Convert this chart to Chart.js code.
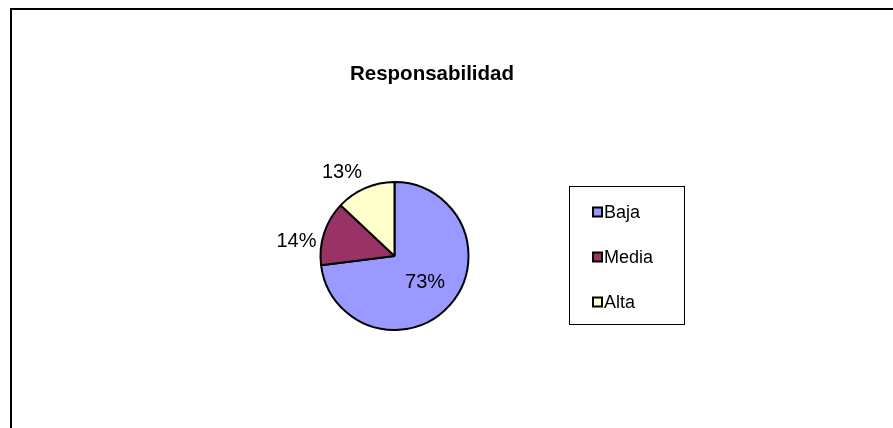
<!DOCTYPE html>
<html>
<head>
<meta charset="utf-8">
<script src="https://cdn.jsdelivr.net/npm/chart.js@4"></script>
<style>
	html, body { margin: 0; padding: 0; background: #fff; }
	#wrap { width: 893px; height: 428px; position: relative; }
</style>
</head>
<body>
<div id="wrap"><canvas id="chart" width="893" height="428"></canvas></div>
<script>
const chartTitle = 'Responsabilidad';
const categories = ['Baja', 'Media', 'Alta'];
const percentages = [73, 14, 13];
const sliceColors = ['#9999FF', '#993366', '#FFFFCC'];

const fontFamily = '"Liberation Sans", Arial, sans-serif';

// outer frame (top + left edge only, like the cropped Excel chart area)
const framePlugin = {
	id: 'frame',
	beforeDraw: chart => {
		const ctx = chart.ctx;
		ctx.save();
		ctx.fillStyle = '#fff';
		ctx.fillRect(0, 0, chart.width, chart.height);
		ctx.strokeStyle = '#000';
		ctx.lineWidth = 2;
		ctx.beginPath();
		ctx.moveTo(11, chart.height);
		ctx.lineTo(11, 9);
		ctx.lineTo(chart.width, 9);
		ctx.stroke();
		ctx.restore();
	}
};

const titlePlugin = {
	id: 'bigTitle',
	afterDraw: chart => {
		const ctx = chart.ctx;
		ctx.save();
		ctx.fillStyle = '#000';
		ctx.font = `bold 20.5px ${fontFamily}`;
		ctx.textAlign = 'center';
		ctx.textBaseline = 'middle';
		ctx.fillText(chartTitle, 432, 74);
		ctx.restore();
	}
};

// percentage labels: biggest slice inside, others outside
const labelPlugin = {
	id: 'pctLabels',
	afterDatasetsDraw: chart => {
		const ctx = chart.ctx;
		const meta = chart.getDatasetMeta(0);
		ctx.save();
		ctx.fillStyle = '#000';
		ctx.font = `20px ${fontFamily}`;
		meta.data.forEach((arc, i) => {
			const text = percentages[i] + '%';
			const mid = (arc.startAngle + arc.endAngle) / 2;
			const c = Math.cos(mid), s = Math.sin(mid);
			if (percentages[i] > 50) {
				const d = arc.outerRadius * 0.55;
				ctx.textAlign = 'center';
				ctx.textBaseline = 'middle';
				ctx.fillText(text, arc.x + c * d, arc.y + s * d);
			} else {
				const d = arc.outerRadius + 8;
				ctx.textAlign = c < -0.3 ? 'right' : (c > 0.3 ? 'left' : 'center');
				ctx.textBaseline = s < -0.5 ? 'bottom' : 'top';
				ctx.fillText(text, arc.x + c * d, arc.y + s * d + (s < -0.5 ? 2 : 1));
			}
		});
		ctx.restore();
	}
};

const legendPlugin = {
	id: 'boxLegend',
	afterDraw: chart => {
		const ctx = chart.ctx;
		ctx.save();
		ctx.strokeStyle = '#000';
		ctx.lineWidth = 1;
		ctx.strokeRect(569.5, 186.5, 115, 138);
		ctx.font = `18px ${fontFamily}`;
		ctx.textBaseline = 'middle';
		ctx.textAlign = 'left';
		chart.data.labels.forEach((label, i) => {
			const y = 212 + i * 45;
			ctx.fillStyle = sliceColors[i];
			ctx.fillRect(593, y - 4.5, 9, 9);
			ctx.lineWidth = 2;
			ctx.strokeRect(593, y - 4.5, 9, 9);
			ctx.fillStyle = '#000';
			ctx.fillText(label, 604, y + 1);
		});
		ctx.restore();
	}
};

new Chart(document.getElementById('chart'), {
	type: 'pie',
	data: {
		labels: categories,
		datasets: [{
			data: percentages,
			backgroundColor: sliceColors,
			borderColor: '#000',
			borderWidth: 2
		}]
	},
	options: {
		responsive: false,
		animation: false,
		layout: {
			padding: { left: 319.5, right: 423.5, top: 181, bottom: 97 }
		},
		plugins: {
			legend: { display: false },
			title: { display: false },
			tooltip: { enabled: false }
		}
	},
	plugins: [framePlugin, titlePlugin, labelPlugin, legendPlugin]
});
</script>
</body>
</html>
